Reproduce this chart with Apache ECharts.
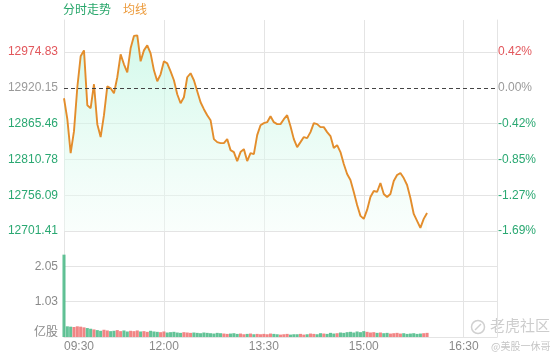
<!DOCTYPE html>
<html>
<head>
<meta charset="utf-8">
<script src="https://cdn.jsdelivr.net/npm/echarts@6/dist/echarts.min.js"></script>
<style>html,body{margin:0;padding:0;background:#fff;}#c{width:560px;height:360px;}</style>
</head>
<body>
<div id="c"></div>
<script>
// ---- data ----
const basePrice = 12920.147;   // previous close (0.00%)
const priceStep = 54.6843;     // axis tick step (≈0.42%)
const tickLabels = ['09:30', '12:00', '13:30', '15:00', '16:30'];
const slots = Array.from({ length: 131 }, (_, i) => String(i)); // 3-minute slots
const price = [
  12904.4, 12872.4, 12820.5, 12854.1, 12921.2, 12968.5, 12977.6, 12893.8, 12889.2, 12925.8,
  12864.8, 12845.0, 12878.5, 12922.7, 12919.7, 12912.1, 12936.5, 12971.5, 12956.3, 12944.1,
  12980.7, 12999.7, 13000.5, 12960.9, 12977.6, 12985.3, 12973.1, 12947.1, 12930.4, 12941.0,
  12960.9, 12957.8, 12945.6, 12931.9, 12910.5, 12896.8, 12905.9, 12936.5, 12942.6, 12931.9,
  12915.1, 12898.3, 12887.7, 12878.5, 12870.9, 12841.9, 12837.3, 12835.8, 12835.8, 12841.9,
  12825.1, 12822.1, 12808.3, 12822.1, 12826.6, 12808.3, 12820.5, 12819.0, 12848.0, 12863.2,
  12866.3, 12867.8, 12877.0, 12867.8, 12864.8, 12864.8, 12872.4, 12878.5, 12861.7, 12841.9,
  12829.7, 12837.3, 12845.0, 12843.4, 12852.6, 12866.3, 12864.8, 12860.2, 12860.2, 12852.6,
  12846.5, 12828.2, 12832.7, 12822.1, 12803.8, 12788.5, 12779.4, 12761.1, 12741.2, 12724.5,
  12719.9, 12733.6, 12753.4, 12762.6, 12761.1, 12774.8, 12758.0, 12753.4, 12758.0, 12777.8,
  12787.0, 12790.0, 12782.4, 12771.7, 12751.9, 12727.5, 12716.8, 12706.1, 12719.9, 12729.0
];
const volume = [
  2.39, 0.31, 0.30, 0.29, 0.31, 0.30, 0.28, 0.26, 0.24, 0.22,
  0.20, 0.18, 0.21, 0.19, 0.17, 0.18, 0.20, 0.17, 0.19, 0.16,
  0.18, 0.17, 0.19, 0.16, 0.17, 0.15, 0.18, 0.16, 0.15, 0.14,
  0.16, 0.13, 0.14, 0.15, 0.13, 0.12, 0.14, 0.13, 0.12, 0.13,
  0.12, 0.11, 0.13, 0.12, 0.11, 0.10, 0.12, 0.11, 0.10, 0.09,
  0.10, 0.11, 0.09, 0.10, 0.08, 0.09, 0.10, 0.08, 0.09, 0.08,
  0.09, 0.08, 0.10, 0.09, 0.08, 0.07, 0.08, 0.09, 0.07, 0.08,
  0.08, 0.09, 0.07, 0.08, 0.10, 0.09, 0.08, 0.11, 0.10, 0.09,
  0.12, 0.10, 0.11, 0.13, 0.12, 0.14, 0.15, 0.13, 0.16, 0.14,
  0.17, 0.15, 0.13, 0.14, 0.12, 0.13, 0.11, 0.12, 0.10, 0.11,
  0.12, 0.10, 0.11, 0.09, 0.10, 0.11, 0.09, 0.10, 0.11, 0.12
];
const volStep = 1.0255;
const volMax = 3 * volStep;

// ---- styling ----
const FONT = '"Liberation Sans", Arial, "Noto Sans CJK SC", sans-serif';
const CJK = '"Noto Sans CJK SC", "Liberation Sans", sans-serif';
const RED = '#e2575c', GREEN = '#2aa872', GREY = '#9a9a9a', GRID = '#e4e4e4';
const LINE = '#e38d2c';
const UPBAR = 'rgba(238,112,112,0.85)', DOWNBAR = 'rgba(60,180,125,0.8)';

function priceColor(v) {
  const d = Number(v) - basePrice;
  if (Math.abs(d) < 0.01) return GREY;
  return d > 0 ? RED : GREEN;
}
const yMin = basePrice - 4 * priceStep;
const yMax = basePrice + 1.9 * priceStep;

const volData = volume.map((v, i) => {
  const prev = i === 0 ? basePrice : price[i - 1];
  return { value: v, itemStyle: { color: price[i] >= prev ? UPBAR : DOWNBAR } };
});

const chart = echarts.init(document.getElementById('c'), null, { renderer: 'canvas' });
chart.setOption({
  animation: false,
  backgroundColor: '#fff',
  title: [
    { text: '分时走势', left: 63, top: 3, padding: 0, textStyle: { color: '#27a66a', fontSize: 12, fontWeight: 'normal', fontFamily: CJK } },
    { text: '均线', left: 123, top: 3, padding: 0, textStyle: { color: '#ec9a3a', fontSize: 12, fontWeight: 'normal', fontFamily: CJK } }
  ],
  grid: [
    { left: 64, right: 63, top: 20, height: 211 },
    { left: 64, right: 63, top: 231, height: 106 }
  ],
  xAxis: [
    {
      gridIndex: 0, type: 'category', data: slots, boundaryGap: false,
      axisLine: { show: false }, axisTick: { show: false }, axisLabel: { show: false },
      splitLine: { show: true, interval: (i) => i % 30 === 0, lineStyle: { color: GRID } }
    },
    {
      gridIndex: 1, type: 'category', data: slots, boundaryGap: false,
      axisLine: { show: true, lineStyle: { color: GRID } }, axisTick: { show: false },
      axisLabel: {
        show: true, interval: (i) => i % 30 === 0, formatter: (v, i) => tickLabels[Math.round(Number(v) / 30)],
        margin: 4, color: '#8a8a8a', fontSize: 12, fontFamily: FONT, alignMinLabel: 'left'
      },
      splitLine: { show: true, interval: (i) => i % 30 === 0, lineStyle: { color: GRID } }
    }
  ],
  yAxis: [
    {
      gridIndex: 0, type: 'value', min: yMin, max: yMax, interval: priceStep, position: 'left',
      axisLine: { show: true, lineStyle: { color: GRID } }, axisTick: { show: false },
      axisLabel: {
        showMaxLabel: false, margin: 6, fontSize: 12, fontFamily: FONT,
        color: (v) => priceColor(v), formatter: (v) => Number(v).toFixed(2)
      },
      splitLine: { show: true, lineStyle: { color: [GRID, GRID, GRID, GRID, 'transparent', GRID, 'transparent'] } }
    },
    {
      gridIndex: 0, type: 'value', min: yMin, max: yMax, interval: priceStep, position: 'right',
      axisLine: { show: true, lineStyle: { color: GRID } }, axisTick: { show: false },
      axisLabel: {
        showMaxLabel: false, margin: 1, fontSize: 12, fontFamily: FONT,
        color: (v) => priceColor(v),
        formatter: (v) => {
          const p = (Number(v) - basePrice) / basePrice * 100;
          return (Math.abs(p) < 0.005 ? '0.00' : p.toFixed(2)) + '%';
        }
      },
      splitLine: { show: false }
    },
    {
      gridIndex: 1, type: 'value', min: 0, max: volMax, interval: volStep, position: 'left',
      axisLine: { show: true, lineStyle: { color: GRID } }, axisTick: { show: false },
      axisLabel: {
        margin: 6, fontSize: 12, fontFamily: FONT, color: '#8a8a8a',
        formatter: (v) => {
          const n = Number(v);
          if (n === 0) return '{u|亿股}';
          if (Math.abs(n - volMax) < 1e-6) return '';
          return n.toFixed(2);
        },
        rich: { u: { fontSize: 12, fontFamily: CJK, color: '#8a8a8a', padding: [0, 0, 12, 0] } }
      },
      splitLine: { show: true, lineStyle: { color: ['transparent', GRID, GRID, 'transparent'] } }
    },
    {
      gridIndex: 1, type: 'value', min: 0, max: volMax, interval: volStep, position: 'right',
      axisLine: { show: true, lineStyle: { color: GRID } }, axisTick: { show: false },
      axisLabel: { show: false }, splitLine: { show: false }
    }
  ],
  series: [
    {
      name: '分时走势', type: 'line', xAxisIndex: 0, yAxisIndex: 0, data: price,
      showSymbol: false, symbol: 'none',
      lineStyle: { color: LINE, width: 1.9 },
      areaStyle: {
        color: new echarts.graphic.LinearGradient(0, 0, 0, 1, [
          { offset: 0, color: 'rgba(185,246,222,0.9)' },
          { offset: 1, color: 'rgba(242,253,248,0.6)' }
        ])
      },
      markLine: {
        silent: true, symbol: ['none', 'none'], label: { show: false },
        lineStyle: { type: [4, 3], color: '#444', width: 1 },
        data: [{ yAxis: basePrice }]
      },
      z: 3
    },
    {
      name: '成交量', type: 'bar', xAxisIndex: 1, yAxisIndex: 2, data: volData,
      barCategoryGap: '8%'
    }
  ],
  graphic: [
    { type: 'circle', shape: { cx: 478, cy: 327, r: 6.5 }, style: { fill: 'none', stroke: '#d0d0d0', lineWidth: 1.5 } },
    { type: 'line', shape: { x1: 475, y1: 330, x2: 481, y2: 324 }, style: { stroke: '#d0d0d0', lineWidth: 1.5 } },
    { type: 'text', left: 490, top: 318, style: { text: '老虎社区', fontSize: 15, fill: '#cdcdcd', fontFamily: CJK } },
    { type: 'text', left: 491, top: 341, style: { text: '@美股一休哥', fontSize: 10, fill: '#c6c6c6', fontFamily: CJK } }
  ]
});
</script>
</body>
</html>
